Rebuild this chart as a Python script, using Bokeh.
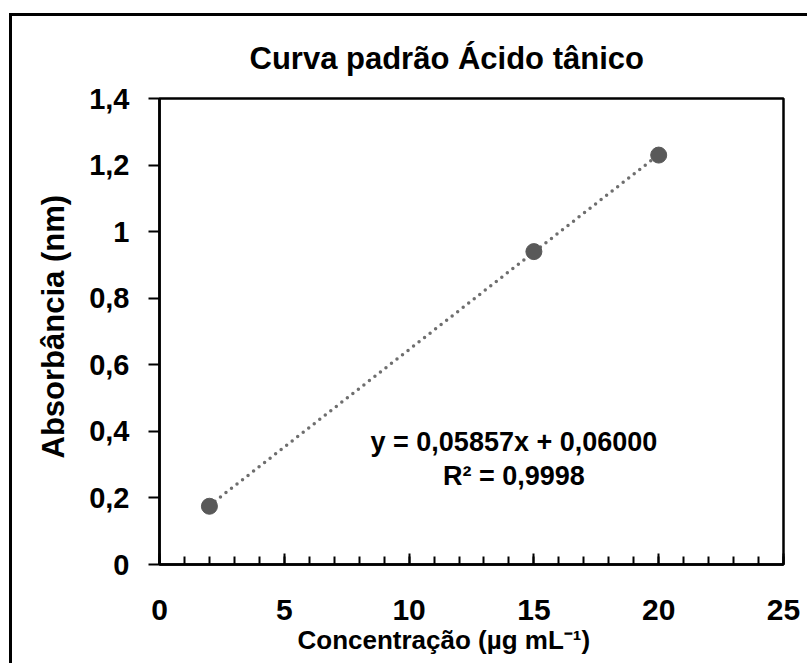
from bokeh.plotting import figure
from bokeh.models import FixedTicker, Label, Title
from bokeh.embed import file_html
from bokeh.resources import INLINE

# Data
conc = [2, 15, 20]
absorb = [0.175, 0.94, 1.23]
slope = 0.05857
intercept = 0.06000
fit_x = [2, 20]
y_ticks = [0, 0.2, 0.4, 0.6, 0.8, 1.0, 1.2, 1.4]
y_tick_labels = ["0", "0,2", "0,4", "0,6", "0,8", "1", "1,2", "1,4"]
x_ticks = [0, 5, 10, 15, 20, 25]
x_minor = list(range(0, 26))

FONT = "Liberation Sans"

p = figure(width=798, height=650, x_range=(0, 25), y_range=(0, 1.4),
           output_backend="svg", toolbar_location=None,
           min_border_left=147, min_border_right=27,
           min_border_top=82, min_border_bottom=102)
p.styles = {"margin-left": "9px", "margin-top": "13px",
            "border-left": "3px solid black", "border-top": "3px solid black"}

p.grid.visible = False
p.outline_line_color = "black"
p.outline_line_width = 2.5
p.background_fill_color = "white"
p.border_fill_color = "white"

# X axis
xa = p.xaxis[0]
xa.ticker = FixedTicker(ticks=x_ticks, minor_ticks=x_minor)
xa.axis_line_width = 2.5
xa.major_tick_in = 11
xa.major_tick_out = 0
xa.minor_tick_in = 8
xa.minor_tick_out = 0
xa.major_tick_line_width = 2
xa.minor_tick_line_width = 2
xa.major_label_standoff = 35
xa.major_label_text_font_size = "30px"

# Y axis
ya = p.yaxis[0]
ya.ticker = FixedTicker(ticks=y_ticks, minor_ticks=[])
ya.major_label_overrides = {t: l for t, l in zip(y_ticks, y_tick_labels)}
ya.axis_line_width = 2.5
ya.major_tick_in = 0
ya.major_tick_out = 11
ya.major_tick_line_width = 2
ya.major_label_standoff = 19
ya.major_label_text_font_size = "29px"

for ax in (xa, ya):
    ax.major_label_text_font = FONT
    ax.major_label_text_font_style = "bold"
    ax.major_label_text_color = "black"
    ax.axis_line_color = "black"
    ax.major_tick_line_color = "black"
    ax.minor_tick_line_color = "black"


def ttl(s, size, offset, standoff):
    return Title(text=s, align="left", offset=offset, standoff=standoff,
                 text_font=FONT, text_font_size=size, text_font_style="bold",
                 text_color="black")


# Title and axis titles (centred on the whole chart area, as in the original)
p.add_layout(ttl("Curva padrão Ácido tânico", "31px", 90, 45), "above")
p.add_layout(ttl("Concentração (µg mL⁻¹)", "26px", 138, 1), "below")
p.add_layout(ttl("Absorbância (nm)", "31px", 106, 32), "left")

# Trendline (linear fit)
fit_y = [slope * x + intercept for x in fit_x]
p.line(fit_x, fit_y, line_color="#6e6e6e", line_width=3.5,
       line_dash="0 7", line_cap="round")

# Points
p.scatter(conc, absorb, size=16, fill_color="#595959", line_color="#595959")

# Equation text
for txt, yy in (("y = 0,05857x + 0,06000", 0.368), ("R² = 0,9998", 0.266)):
    p.add_layout(Label(x=14.2, y=yy, text=txt,
                       text_align="center", text_baseline="middle",
                       text_font=FONT, text_font_size="27px",
                       text_font_style="bold", text_color="black"))

open("out.html", "w").write(file_html(p, INLINE))
